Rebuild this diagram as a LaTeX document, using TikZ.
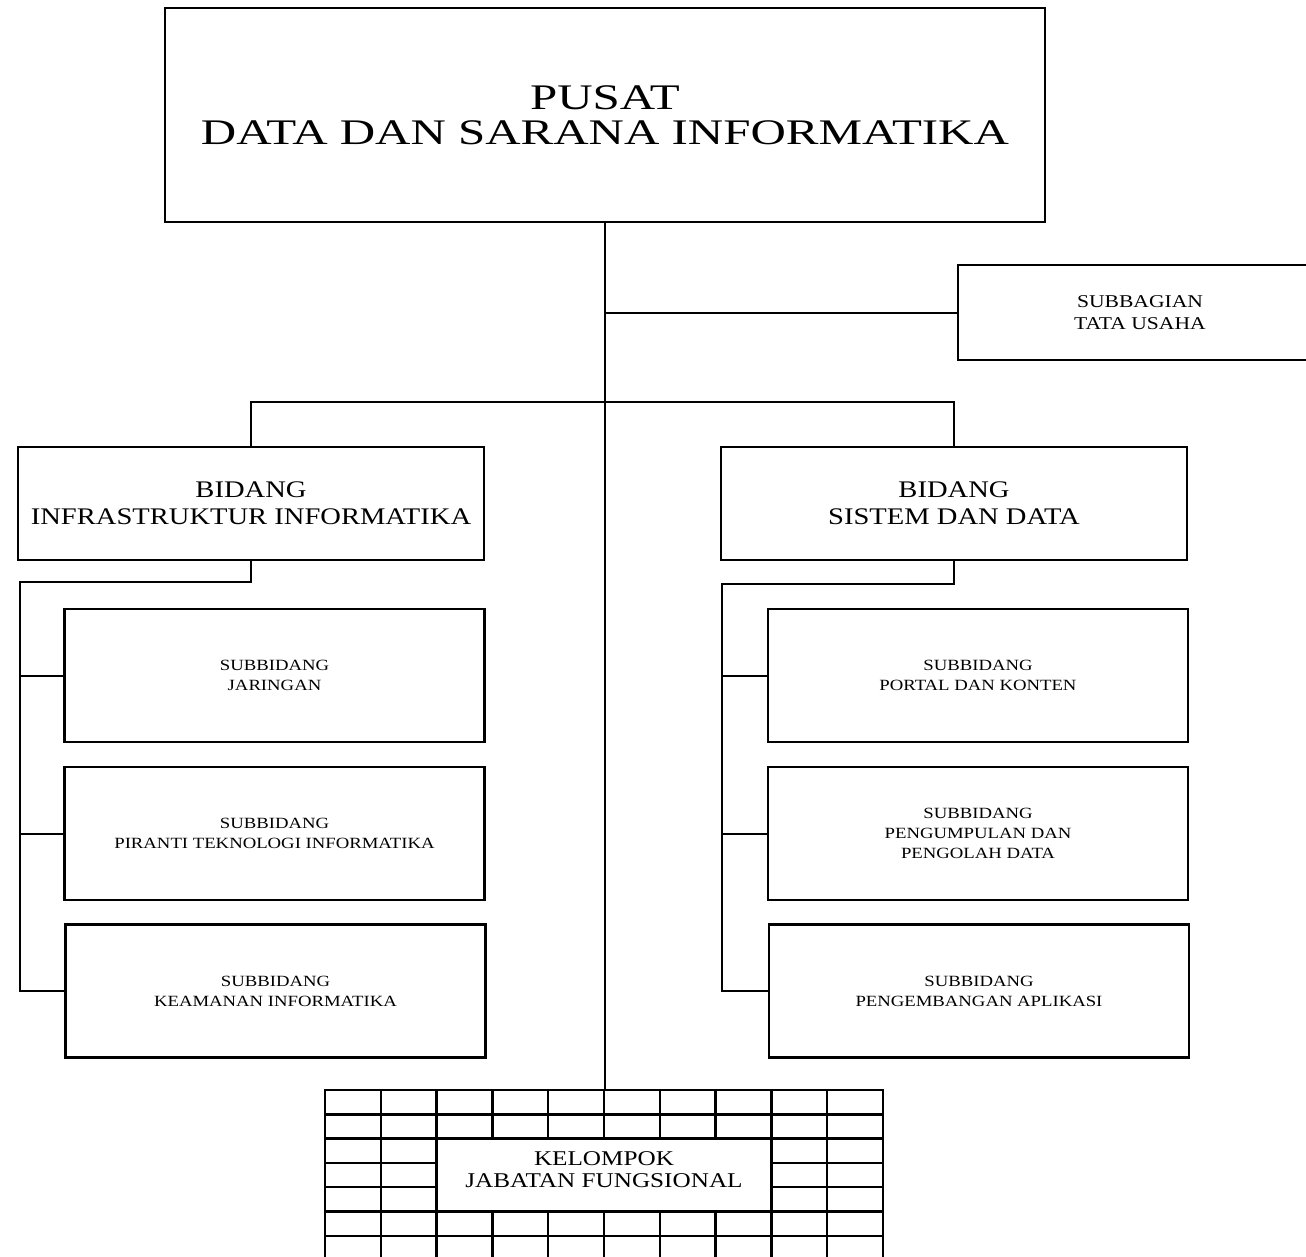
\documentclass[tikz,border=0pt]{standalone}
\usepackage{fontspec}
\usepackage{tikz}
\usetikzlibrary{positioning}
\newfontfamily\titlefont[FakeStretch=1.36]{Liberation Serif}
\newfontfamily\boxfont[FakeStretch=1.2]{Liberation Serif}

\begin{document}
\begin{tikzpicture}[x=0.5pt, y=-0.5pt]
\tikzstyle{box}=[draw, line width=1.2pt, align=center, inner sep=0pt]
\tikzstyle{unit}=[box, font=\boxfont\fontsize{11.9}{13.5}\selectfont, minimum width=233pt, minimum height=56.5pt]
\tikzstyle{sub}=[box, font=\boxfont\fontsize{7.8}{10}\selectfont, minimum width=210pt, minimum height=66.5pt]
\tikzstyle{link}=[line width=1pt]
\tikzstyle{cell}=[line width=1.2pt]
\useasboundingbox (0,0) rectangle (1306,1257);
\node[box, font=\titlefont\fontsize{18}{17.5}\selectfont, minimum width=440pt, minimum height=107pt] (pusat) at (605,115) {PUSAT\\DATA DAN SARANA INFORMATIKA};
\node[box, font=\boxfont\fontsize{9}{11}\selectfont, minimum width=182pt, minimum height=47.5pt] (tu) at (1140,312.5) {SUBBAGIAN\\TATA USAHA};
\node[unit] (infra) at (251,503.5) {BIDANG\\INFRASTRUKTUR INFORMATIKA};
\node[unit] (sisdat) at (954,503.5) {BIDANG\\SISTEM DAN DATA};
\node[sub] (jar) at (274.5,675.5) {SUBBIDANG\\JARINGAN};
\node[sub] (pir) at (274.5,833.5) {SUBBIDANG\\PIRANTI TEKNOLOGI INFORMATIKA};
\node[sub] (kam) at (275.5,991) {SUBBIDANG\\KEAMANAN INFORMATIKA};
\node[sub] (portal) at (978,675.5) {SUBBIDANG\\PORTAL DAN KONTEN};
\node[sub] (olah) at (978,833.5) {SUBBIDANG\\PENGUMPULAN DAN\\PENGOLAH DATA};
\node[sub] (apl) at (979,991) {SUBBIDANG\\PENGEMBANGAN APLIKASI};
\node[box, minimum width=279pt, minimum height=85pt] (grid) at (604,1175) {};
\node[font=\boxfont\fontsize{10.5}{11}\selectfont, align=center] (jafung) at (604,1170) {KELOMPOK\\JABATAN FUNGSIONAL};
\coordinate (bar) at (605,402);
\coordinate (lbus) at (20,582);
\coordinate (rbus) at (722,584);
\draw[link] (pusat.south) -- (pusat.south |- grid.north);
\draw[link] (pusat.south |- tu.west) -- (tu.west);
\draw[link] (infra.north) |- (bar) -| (sisdat.north);
\draw[link] (infra.south) |- (lbus) |- (kam.west);
\draw[link] (lbus |- jar.west) -- (jar.west);
\draw[link] (lbus |- pir.west) -- (pir.west);
\draw[link] (sisdat.south) |- (rbus) |- (apl.west);
\draw[link] (rbus |- portal.west) -- (portal.west);
\draw[link] (rbus |- olah.west) -- (olah.west);
% grid of the functional group
\foreach \i in {1,2,8,9}
  \draw[cell] (325+\i*55.8,1090) -- (325+\i*55.8,1260);
\foreach \i in {3,...,7} {
  \draw[cell] (325+\i*55.8,1090) -- (325+\i*55.8,1138.6);
  \draw[cell] (325+\i*55.8,1211.4) -- (325+\i*55.8,1260);
}
\foreach \j in {1,2,5,6}
  \draw[cell] (325,1090+\j*24.3) -- (883,1090+\j*24.3);
\foreach \j in {3,4} {
  \draw[cell] (325,1090+\j*24.3) -- (436.6,1090+\j*24.3);
  \draw[cell] (771.4,1090+\j*24.3) -- (883,1090+\j*24.3);
}
\end{tikzpicture}
\end{document}
